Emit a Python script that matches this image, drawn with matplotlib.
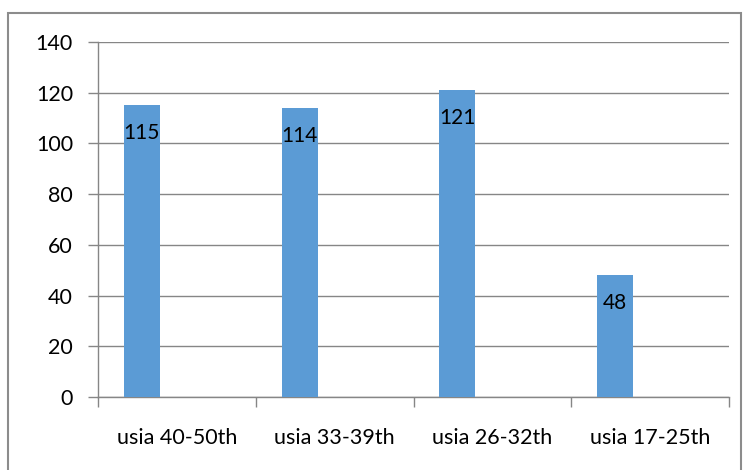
import matplotlib
matplotlib.use("Agg")
import matplotlib.pyplot as plt
from matplotlib.patches import Rectangle

categories = ["usia 40-50th", "usia 33-39th", "usia 26-32th", "usia 17-25th"]
values = [115, 114, 121, 48]
yticks = [0, 20, 40, 60, 80, 100, 120, 140]

plt.rcParams['font.family'] = ['Lato', 'DejaVu Sans']

fig = plt.figure(figsize=(7.45, 4.70), dpi=100)
ax = fig.add_axes([98/745, 1-397/470, (729-98)/745, (397-42)/470])

grid_c = "#868686"
bar_c = "#5B9BD5"
x = list(range(len(categories)))
bw = 0.228
bx = [i - 0.222 for i in x]
ax.bar(bx, values, width=bw, color=bar_c, zorder=3)
for xi, v in zip(bx, values):
    ax.annotate(str(v), (xi, v), xytext=(0, -20), textcoords="offset points",
                ha="center", va="center", fontsize=15, color="black", zorder=4)

ax.set_xlim(-0.5, 3.5)
ax.set_ylim(0, 140)
ax.set_yticks(yticks)
ax.set_yticklabels([str(t) for t in yticks])
ax.yaxis.grid(True, color=grid_c, linewidth=1.0, zorder=0)
ax.set_axisbelow(True)

ax.set_xticks([i + 0.5 for i in range(-1, 4)], minor=False)
ax.set_xticklabels([""] * 5)
ax.set_xticks(x, minor=True)
ax.set_xticklabels(categories, minor=True)
ax.tick_params(axis="x", which="major", length=7, color=grid_c, width=1)
ax.tick_params(axis="x", which="minor", length=0, pad=22, labelsize=15.5)
ax.tick_params(axis="y", length=7, color=grid_c, width=1, pad=11, labelsize=15.5)

for s in ["top", "right"]:
    ax.spines[s].set_visible(False)
for s in ["left", "bottom"]:
    ax.spines[s].set_color(grid_c)
    ax.spines[s].set_linewidth(1.0)

fig.patches.append(Rectangle((8/745, -0.01), 733/745, 1 - 13/470 + 0.01,
                             transform=fig.transFigure, fill=False,
                             edgecolor="#8c8c8c", linewidth=1.5))

fig.savefig("out.png", dpi=100)
